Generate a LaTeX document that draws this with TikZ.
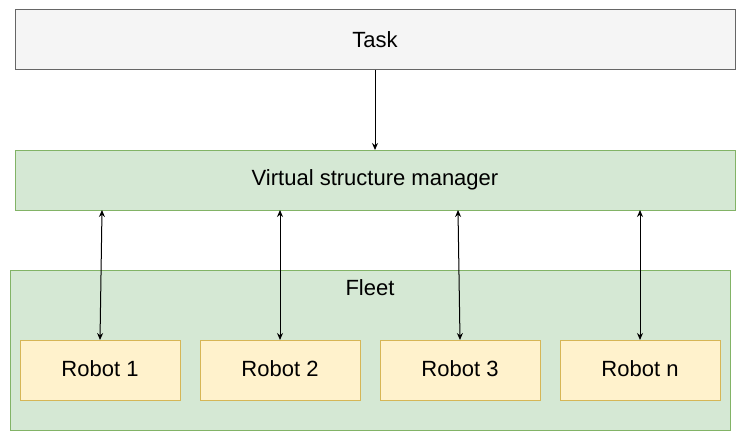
\documentclass[tikz,border=0pt]{standalone}
\usepackage{fontspec}
\setmainfont{Liberation Sans}
\usetikzlibrary{arrows.meta, positioning, calc}
\definecolor{taskgray}{RGB}{102,102,102}
\definecolor{hdrgray}{RGB}{245,245,245}
\definecolor{mygreen}{RGB}{130,179,102}
\definecolor{hdrgreen}{RGB}{213,232,212}
\definecolor{myyellow}{RGB}{214,182,86}
\definecolor{hdryellow}{RGB}{255,242,204}
\tikzset{
  taskblock/.style={rectangle, draw=taskgray, fill=hdrgray,
    minimum width=720pt, minimum height=60pt, inner sep=0pt, outer sep=0pt,
    font=\fontsize{22}{26}\selectfont, line width=1pt},
  greenblock/.style={rectangle, draw=mygreen, fill=hdrgreen,
    minimum width=720pt, minimum height=60pt, inner sep=0pt, outer sep=0pt,
    font=\fontsize{22}{26}\selectfont, line width=1pt},
  robotblock/.style={rectangle, draw=myyellow, fill=hdryellow,
    minimum width=160pt, minimum height=60pt, inner sep=0pt, outer sep=0pt,
    font=\fontsize{22}{26}\selectfont, line width=1pt},
  arrow/.style={-{Stealth[length=7pt,width=6pt]}, line width=1pt, color=black},
  dblarrow/.style={{Stealth[length=7pt,width=6pt]}-{Stealth[length=7pt,width=6pt]}, line width=1pt, color=black}
}

\begin{document}
\begin{tikzpicture}[x=1pt, y=-1pt]
  \useasboundingbox (0,0) rectangle (746,441);

  % Task and manager
  \node[taskblock] (task) at (375, 40) {\raisebox{1pt}{Task}};
  \node[greenblock] (vsm) at (375, 180) {Virtual structure manager};
  \draw[arrow] (task) -- (vsm);

  % Fleet
  \node[greenblock, minimum height=160pt] (fleet) at (370, 350) {};
  \node[below=9pt of fleet.north, inner sep=0pt, font=\fontsize{22}{26}\selectfont] (fleetlbl) {Fleet};

  % Robots
  \node[robotblock] (r1) at (100, 370) {\raisebox{2pt}{Robot 1}};
  \node[robotblock] (r2) at (280, 370) {\raisebox{2pt}{Robot 2}};
  \node[robotblock] (r3) at (460, 370) {\raisebox{2pt}{Robot 3}};
  \node[robotblock] (rn) at (640, 370) {\raisebox{2pt}{Robot n}};

  % Links to the manager
  \draw[dblarrow] ([xshift=87pt]vsm.south west) -- (r1.north);
  \draw[dblarrow] ([xshift=265pt]vsm.south west) -- (r2.north);
  \draw[dblarrow] ([xshift=443pt]vsm.south west) -- (r3.north);
  \draw[dblarrow] ([xshift=625pt]vsm.south west) -- (rn.north);
\end{tikzpicture}
\end{document}
